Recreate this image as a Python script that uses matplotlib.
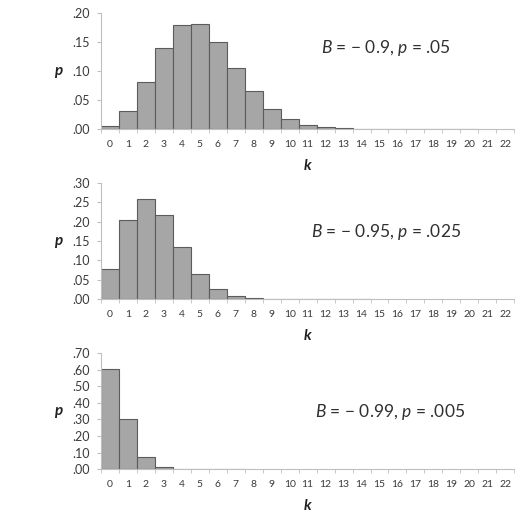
import numpy as np
import matplotlib.pyplot as plt

plt.rcParams['font.family'] = ['Lato', 'DejaVu Sans']
plt.rcParams['mathtext.fontset'] = 'custom'
plt.rcParams['mathtext.it'] = 'Lato:italic'
plt.rcParams['mathtext.rm'] = 'Lato'

k = np.arange(23)

# B = -0.9, p = .05
p1 = [0.005, 0.031, 0.081, 0.140, 0.179, 0.181, 0.151, 0.106, 0.065, 0.035,
      0.017, 0.0065, 0.003, 0.0012, 0.0005, 0.0003, 0.0002, 0.0002, 0.0002,
      0.0002, 0.0002]
# B = -0.95, p = .025
p2 = [0.079, 0.204, 0.258, 0.217, 0.135, 0.065, 0.027, 0.009, 0.0035, 0.0012,
      0.0005, 0.0003, 0.0002, 0.0002, 0.0002]
# B = -0.99, p = .005
p3 = [0.606, 0.302, 0.074, 0.012, 0.0015, 0.0005, 0.0004, 0.0004]

series = [p1, p2, p3]
ymax = [0.20, 0.30, 0.70]
ystep = [0.05, 0.05, 0.10]
labels = ['$B$ = \u2212 0.9, $p$ = .05',
          '$B$ = \u2212 0.95, $p$ = .025',
          '$B$ = \u2212 0.99, $p$ = .005']
label_x = [0.69, 0.69, 0.70]
label_y = [0.70, 0.58, 0.49]

bottoms = [0.753, 0.428, 0.103]

fig = plt.figure(figsize=(5.21, 5.23), dpi=100)
text_col = '#3a3a3a'

for i in range(3):
    ax = fig.add_axes([0.194, bottoms[i], 0.793, 0.222])
    vals = series[i]
    ax.bar(np.arange(len(vals)), vals, width=1.0, color='#a6a6a6',
           edgecolor='#5c5c5c', linewidth=0.8)
    ax.set_xlim(-0.5, 22.5)
    ax.set_ylim(0, ymax[i])
    yt = np.arange(0, ymax[i] + 1e-9, ystep[i])
    ax.set_yticks(yt)
    ax.set_yticklabels(['.%02d' % round(v * 100) for v in yt], fontsize=9,
                       color=text_col)
    ax.set_xticks(k)
    ax.set_xticklabels([str(v) for v in k], fontsize=7.5, color=text_col)
    ax.set_xticks(np.arange(-0.5, 23, 1), minor=True)
    ax.tick_params(axis='x', which='major', length=0, pad=8)
    ax.tick_params(axis='x', which='minor', length=3, color='#bfbfbf',
                   direction='out')
    ax.tick_params(axis='y', length=3, color='#bfbfbf', pad=5)
    for s in ['top', 'right']:
        ax.spines[s].set_visible(False)
    ax.spines['left'].set_color('#bfbfbf')
    ax.spines['bottom'].set_color('#bfbfbf')
    ax.set_ylabel('p', fontsize=11, fontweight='bold', style='italic',
                  rotation=0, labelpad=10, va='center', color='#202020')
    ax.set_xlabel('k', fontsize=11, fontweight='bold', style='italic',
                  labelpad=7, color='#202020')
    ax.text(label_x[i], label_y[i], labels[i], transform=ax.transAxes,
            ha='center', va='center', fontsize=12.5, color='#303030')

fig.savefig('out.png', dpi=100)
